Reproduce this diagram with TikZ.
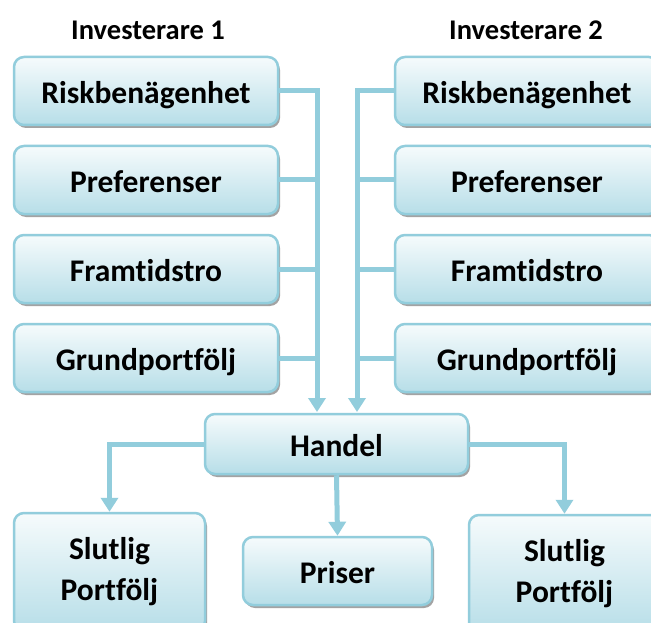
\documentclass[tikz,border=0pt]{standalone}
\usepackage{fontspec}
\setmainfont{Carlito}[Ligatures=NoCommon]
\usetikzlibrary{arrows.meta,shadows}
\definecolor{boxblue}{RGB}{183,222,232}
\definecolor{boxtop}{RGB}{246,251,252}
\definecolor{boxborder}{RGB}{146,205,220}
\definecolor{linecol}{RGB}{146,205,220}
\tikzset{
  box/.style={rounded corners=10pt, draw=boxborder, line width=2.5pt,
    top color=boxtop, bottom color=boxblue,
    drop shadow={shadow xshift=2pt, shadow yshift=-3pt, fill=black!45, opacity=0.8},
    font=\fontsize{31.5}{38}\selectfont\bfseries, align=center, inner sep=0pt},
  onebox/.style={box, text height=25pt, text depth=0pt},
  colbox/.style={onebox, minimum width=264pt, minimum height=68pt},
  head/.style={font=\fontsize{28.5}{34}\selectfont\bfseries, inner sep=0pt},
  conn/.style={draw=linecol, line width=5pt},
  arr/.style={conn, -{Triangle[length=14pt,width=17pt]}},
}
\begin{document}
\begin{tikzpicture}[x=1pt,y=-1pt]
\clip (0,0) rectangle (651,623);
\fill[white] (0,0) rectangle (651,623);
\node[head] (h1) at (148,30) {Investerare 1};
\node[head] (h2) at (526,30) {Investerare 2};
\coordinate (lend) at (317,412);
\coordinate (rend) at (357,412);
\node[colbox] (l1) at (146,91) {Riskbenägenhet};
\node[colbox] (l2) at (146,180) {Preferenser};
\node[colbox] (l3) at (146,269) {Framtidstro};
\node[colbox] (l4) at (146,358) {Grundportfölj};
\node[colbox] (r1) at (527,91) {Riskbenägenhet};
\node[colbox] (r2) at (527,180) {Preferenser};
\node[colbox] (r3) at (527,269) {Framtidstro};
\node[colbox] (r4) at (527,358) {Grundportfölj};
\node[onebox, minimum width=263pt, minimum height=60pt] (ha) at (336.5,444) {Handel};
\node[box, minimum width=191pt, minimum height=118pt] (s1) at (109.5,572) {Slutlig\\[3pt]Portfölj};
\node[box, minimum width=191pt, minimum height=118pt] (s2) at (564.5,574) {Slutlig\\[3pt]Portfölj};
\node[onebox, minimum width=189pt, minimum height=68pt] (pr) at (337.5,571) {Priser};
\draw[arr] (l1.east) -| (lend);
\draw[arr] (r1.west) -| (rend);
\foreach \i in {2,3,4}{
  \draw[conn] (l\i.east) -- (l\i.east -| lend);
  \draw[conn] (r\i.west) -- (r\i.west -| rend);
}
\draw[arr] (ha.west) -| (s1.north);
\draw[arr] (ha.east) -| (s2.north);
\draw[arr] (ha.south) -- (pr.north);
\end{tikzpicture}
\end{document}
